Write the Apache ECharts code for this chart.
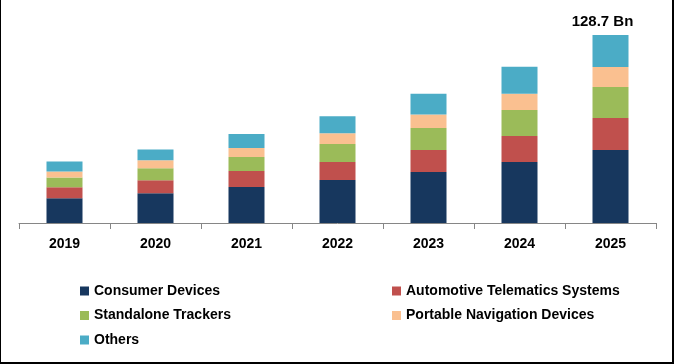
<!DOCTYPE html>
<html>
<head>
<meta charset="utf-8">
<script src="https://cdn.jsdelivr.net/npm/echarts@6/dist/echarts.min.js"></script>
<style>
html,body{margin:0;padding:0;background:#fff;}
#wrap{position:relative;width:674px;height:364px;box-sizing:border-box;border-left:1px solid #000;border-right:2px solid #000;border-bottom:2px solid #000;}
#chart{position:absolute;left:-1px;top:0;width:674px;height:364px;}
</style>
</head>
<body>
<div id="wrap"><div id="chart"></div></div>
<script>
const years = ['2019','2020','2021','2022','2023','2024','2025'];
const consumerDevices = [16.9, 20.3, 24.6, 29.4, 34.9, 41.8, 50.0];
const automotiveTelematics = [7.5, 8.9, 11.0, 12.3, 15.1, 17.8, 21.9];
const standaloneTrackers = [6.8, 8.2, 9.6, 12.3, 15.1, 17.8, 21.2];
const portableNavigation = [4.1, 5.5, 6.2, 7.5, 9.1, 11.0, 13.7];
const others = [6.8, 7.5, 9.6, 11.6, 14.2, 18.5, 21.9];
const totalLabel = '128.7 Bn';

const names = ['Consumer Devices','Automotive Telematics Systems','Standalone Trackers','Portable Navigation Devices','Others'];
const colors = ['#17375E','#C0504D','#9BBB59','#FAC090','#4BACC6'];
const dataSets = [consumerDevices, automotiveTelematics, standaloneTrackers, portableNavigation, others];

const font = 'Liberation Sans, Arial, sans-serif';
const chart = echarts.init(document.getElementById('chart'));

const series = dataSets.map((d, i) => ({
  name: names[i],
  type: 'bar',
  stack: 'total',
  barWidth: 36,
  data: d,
  itemStyle: { color: colors[i] },
  label: i === 4 ? {
    show: true,
    position: 'top',
    distance: 6,
    offset: [-8, 0],
    color: '#000',
    fontWeight: 'bold',
    fontSize: 15,
    fontFamily: font,
    formatter: p => p.dataIndex === years.length - 1 ? totalLabel : ''
  } : { show: false },
  emphasis: { disabled: true }
}));

const legendText = { color: '#000', fontWeight: 'bold', fontSize: 14, fontFamily: font };

chart.setOption({
  animation: false,
  grid: { left: 19, right: 18, top: 18.5, bottom: 141 },
  xAxis: {
    type: 'category',
    data: years,
    axisLine: { lineStyle: { color: '#868686', width: 1 } },
    axisTick: { show: true, length: 6, lineStyle: { color: '#868686' } },
    axisLabel: { color: '#000', fontWeight: 'bold', fontSize: 14, fontFamily: font, margin: 14 }
  },
  yAxis: { type: 'value', min: 0, max: 140, show: false, splitLine: { show: false } },
  legend: [
    {
      data: [names[0], names[2], names[4]],
      orient: 'vertical', left: 80, top: 284,
      itemWidth: 9, itemHeight: 9, itemGap: 10.5,
      icon: 'rect', textStyle: legendText, padding: [0,0,0,0]
    },
    {
      data: [names[1], names[3]],
      orient: 'vertical', left: 392, top: 284,
      itemWidth: 9, itemHeight: 9, itemGap: 10.5,
      icon: 'rect', textStyle: legendText, padding: [0,0,0,0]
    }
  ],
  series: series
});
</script>
</body>
</html>
